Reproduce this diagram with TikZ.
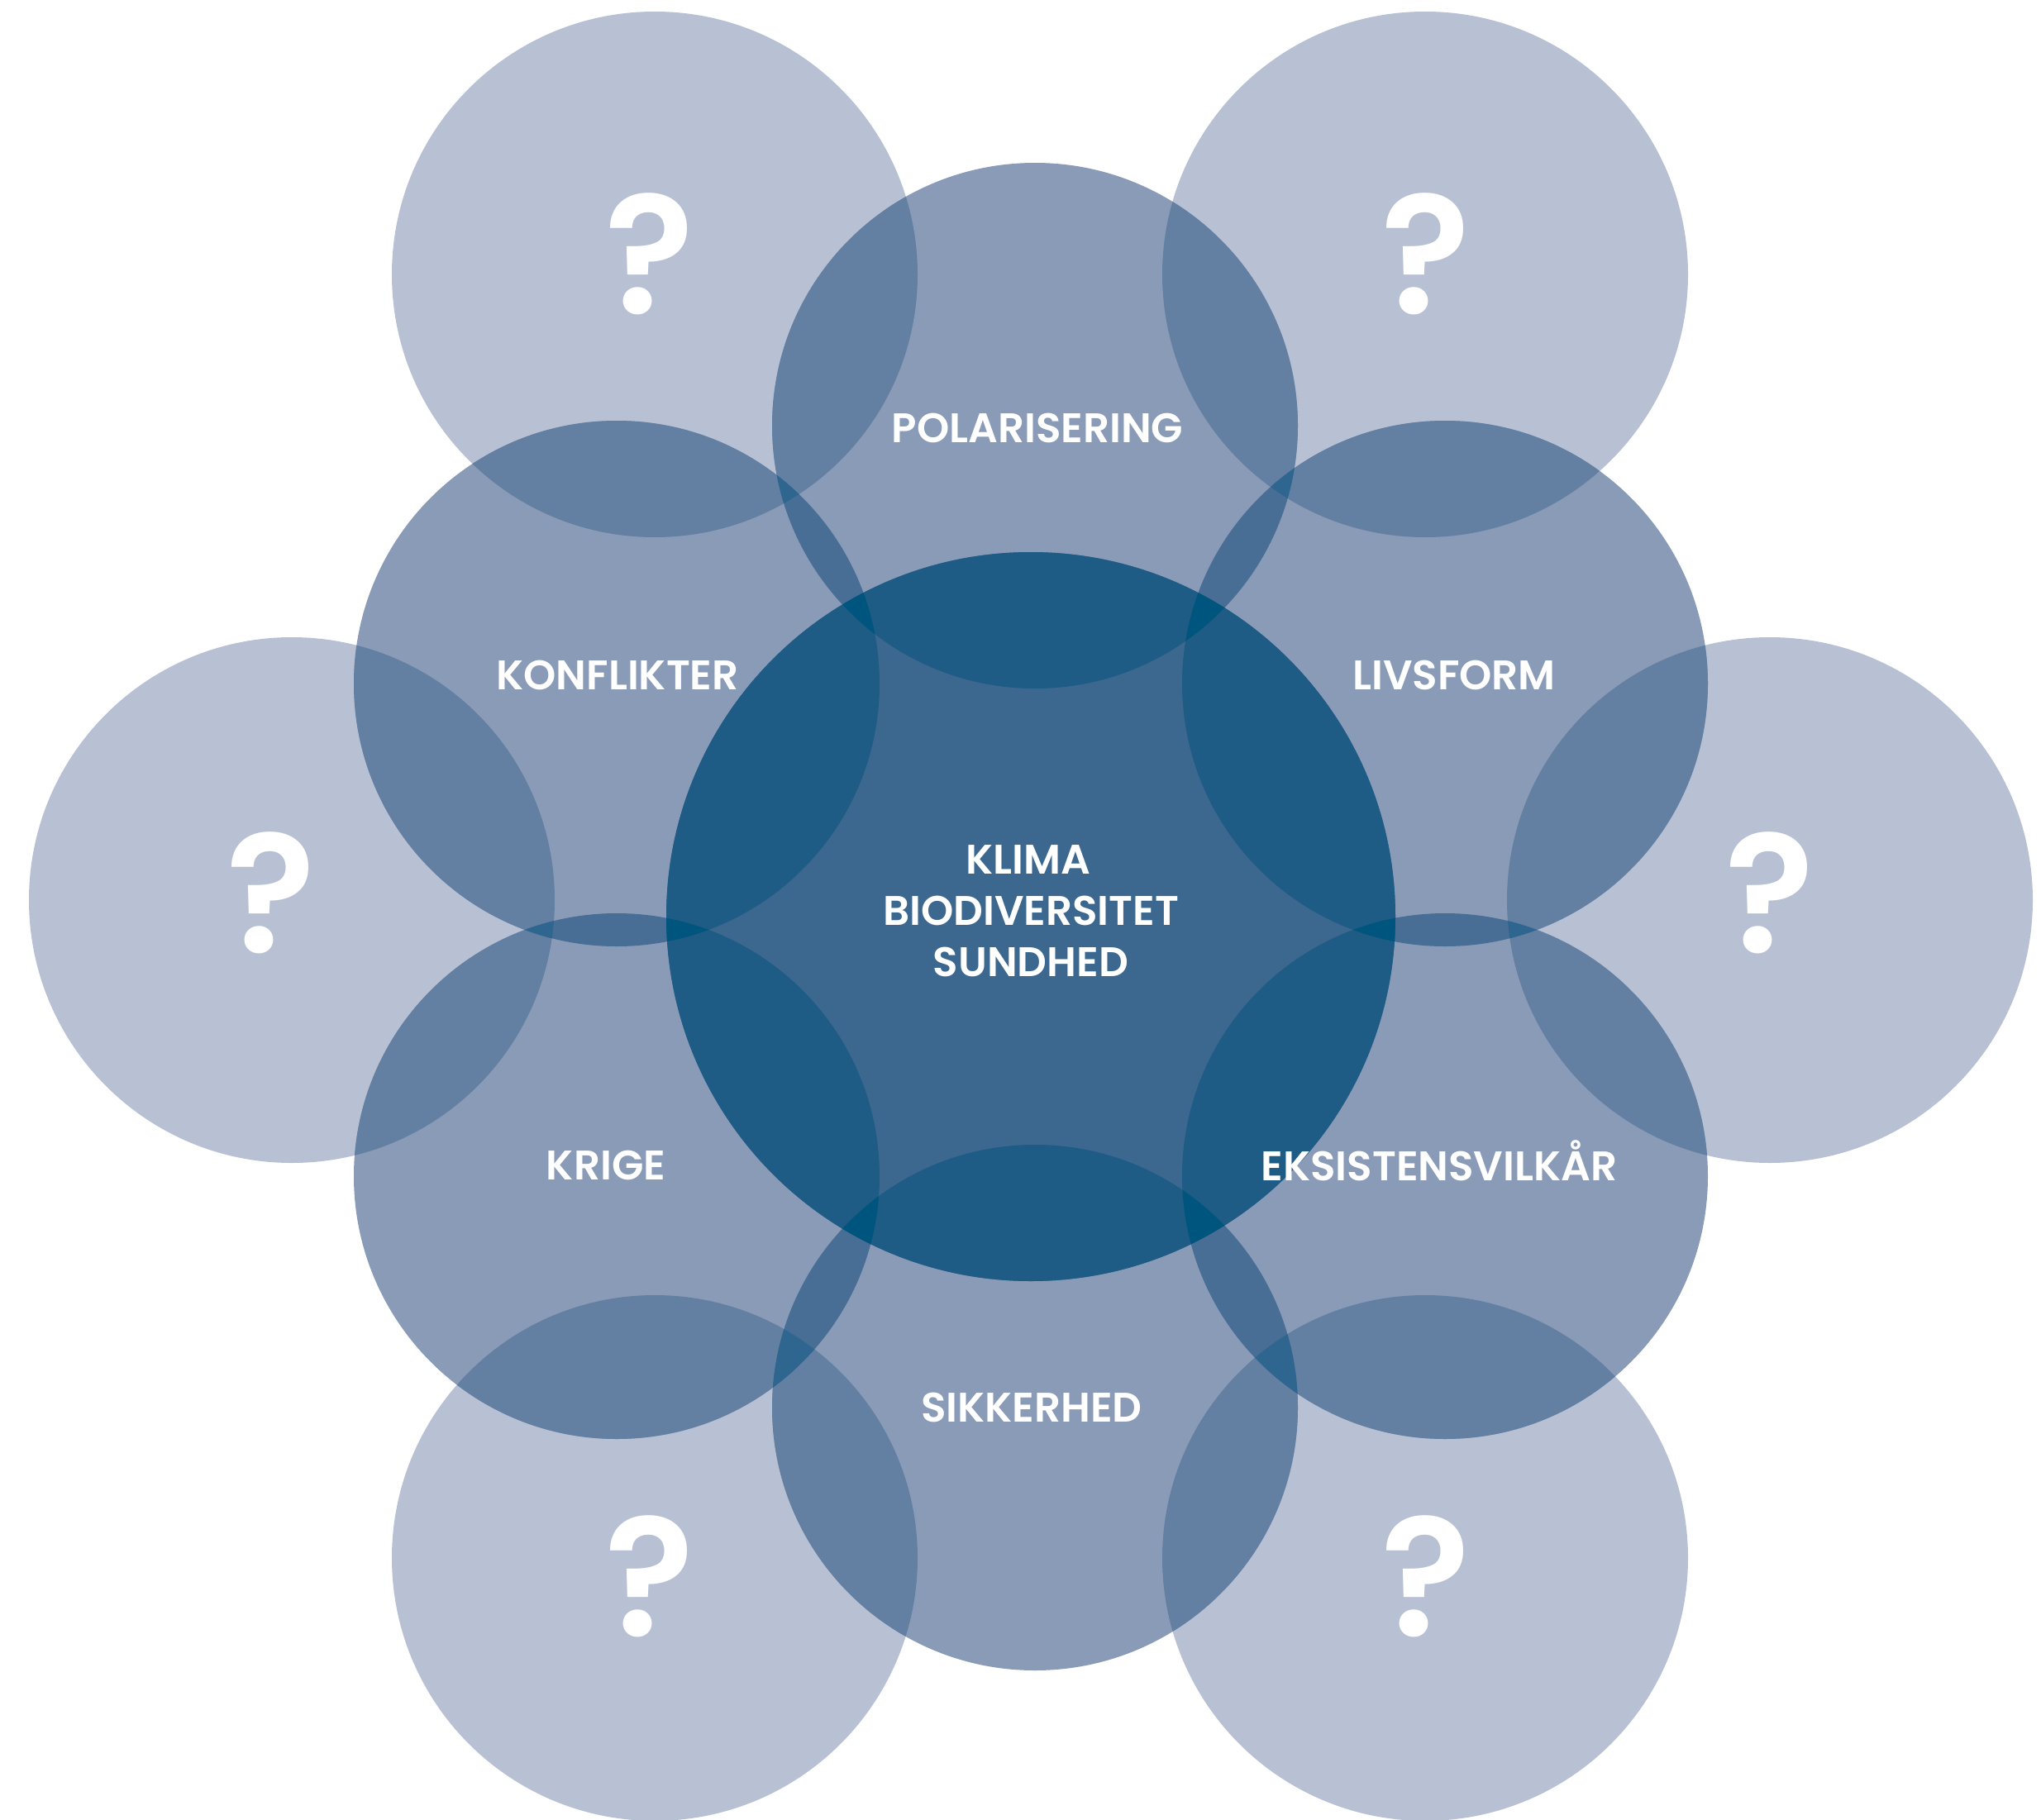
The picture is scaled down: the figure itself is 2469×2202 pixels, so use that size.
\documentclass[tikz,border=0pt]{standalone}
\usepackage{fontspec}
\setmainfont{Poppins}[BoldFont={Poppins SemiBold}]
\definecolor{cL}{HTML}{B8C1D4}
\definecolor{cM}{HTML}{8A9BB7}
\definecolor{cLM}{HTML}{6380A3}
\definecolor{cMM}{HTML}{496E95}
\definecolor{cLMM}{HTML}{2E6690}
\definecolor{cC}{HTML}{3C6890}
\definecolor{cCM}{HTML}{1E5B85}
\definecolor{cCMM}{HTML}{00557F}
\begin{document}
\begin{tikzpicture}[x=1pt,y=-1pt,
  lbl/.style={font=\fontsize{50}{62}\selectfont\bfseries, text=white, inner sep=0pt, anchor=base},
  qm/.style={font=\fontsize{202}{202}\selectfont\bfseries, text=white, inner sep=0pt, anchor=base}]
\useasboundingbox (0,0) rectangle (2469,2202);
\def\Rl{318pt}\def\Rm{318pt}\def\Rc{441pt}
\coordinate (C0) at (1247,1109);
\coordinate (M1) at (1252,515);
\coordinate (M2) at (1748,827);
\coordinate (M3) at (1748,1423);
\coordinate (M4) at (1252,1703);
\coordinate (M5) at (746,1423);
\coordinate (M6) at (746,827);
\coordinate (L1) at (792,332);
\coordinate (L2) at (1724,332);
\coordinate (L3) at (2141,1089);
\coordinate (L4) at (1724,1885);
\coordinate (L5) at (792,1885);
\coordinate (L6) at (353,1089);
% base circles
\foreach \i in {1,...,6} \fill[cL] (L\i) circle (\Rl);
\foreach \i in {1,...,6} \fill[cM] (M\i) circle (\Rm);
\fill[cC] (C0) circle (\Rc);
% light with medium
\foreach \i in {1,...,6}{
  \foreach \j in {1,...,6}{
    \begin{scope}
      \clip (L\i) circle (\Rl);
      \fill[cLM] (M\j) circle (\Rm);
    \end{scope}
  }
}
% medium with medium
\foreach \i/\j in {1/2,2/3,3/4,4/5,5/6,6/1}{
  \begin{scope}
    \clip (M\i) circle (\Rm);
    \fill[cMM] (M\j) circle (\Rm);
  \end{scope}
}
% centre with medium
\foreach \i in {1,...,6}{
  \begin{scope}
    \clip (C0) circle (\Rc);
    \fill[cCM] (M\i) circle (\Rm);
  \end{scope}
}
% centre with two mediums
\foreach \i/\j in {1/2,2/3,3/4,4/5,5/6,6/1}{
  \begin{scope}
    \clip (C0) circle (\Rc);
    \clip (M\i) circle (\Rm);
    \fill[cCMM] (M\j) circle (\Rm);
  \end{scope}
}
% light with two mediums
\foreach \k/\i/\j in {1/6/1,2/1/2,3/2/3,4/3/4,5/4/5,6/5/6}{
  \begin{scope}
    \clip (L\k) circle (\Rl);
    \clip (M\i) circle (\Rm);
    \fill[cLMM] (M\j) circle (\Rm);
  \end{scope}
}
% labels
\node[lbl] (pol) at (1255,535) {POLARISERING};
\node[lbl] (konf) at (747,834) {KONFLIKTER};
\node[lbl] (livs) at (1759,834) {LIVSFORM};
\node[lbl] (krige) at (733,1427) {KRIGE};
\node[lbl] (eks) at (1741,1428) {EKSISTENSVILKÅR};
\node[lbl] (sik) at (1248,1720) {SIKKERHED};
\node[lbl] (klima) at (1244,1057) {KLIMA};
\node[lbl] (bio) at (1247,1119) {BIODIVERSITET};
\node[lbl] (sund) at (1247,1181) {SUNDHED};
% question marks
\node[qm] (q1) at (786,379) {?};
\node[qm] (q2) at (1725,379) {?};
\node[qm] (q3) at (2141,1152) {?};
\node[qm] (q4) at (1725,1979) {?};
\node[qm] (q5) at (786,1979) {?};
\node[qm] (q6) at (328,1152) {?};
\end{tikzpicture}
\end{document}
